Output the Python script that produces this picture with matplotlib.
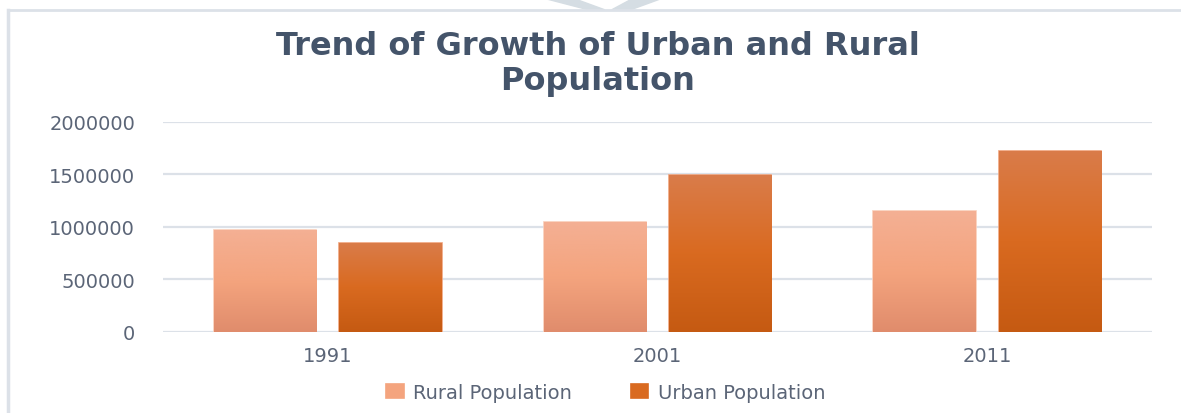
import matplotlib
matplotlib.use("Agg")
import matplotlib.pyplot as plt
import numpy as np
from matplotlib.patches import Polygon

years = ["1991", "2001", "2011"]
rural = [972000, 1048000, 1152000]
urban = [848000, 1495000, 1724000]
series_names = ["Rural Population", "Urban Population"]

title = "Trend of Growth of Urban and Rural\nPopulation"
yticks = [0, 500000, 1000000, 1500000, 2000000]

text_col = "#5B6577"
title_col = "#44546A"
grid_col = "#DCE1E8"

# gradients top -> bottom
rural_grad = ["#F4B094", "#F4A47E", "#E08C6C"]
urban_grad = ["#DA7C4A", "#D96A20", "#C55A12"]


def gradient_fill(ax, bar, colors):
    x, y = bar.get_x(), bar.get_y()
    w, h = bar.get_width(), bar.get_height()
    cmap = matplotlib.colors.LinearSegmentedColormap.from_list("g", colors)
    grad = np.linspace(1, 0, 256).reshape(-1, 1)
    im = ax.imshow(grad, extent=[x, x + w, y, y + h], aspect="auto",
                   cmap=cmap, origin="lower", zorder=bar.get_zorder())
    im.set_clip_path(bar)


fig = plt.figure(figsize=(11.81, 4.14), dpi=100)
ax = fig.add_axes([0.138, 0.1957, 0.8374, 0.5072])

x = np.arange(len(years))
w = 0.31
off = 0.19
b1 = ax.bar(x - off, rural, w, color=rural_grad[1], edgecolor="#F8CDB8",
            linewidth=1.2, zorder=3, label=series_names[0])
b2 = ax.bar(x + off, urban, w, color=urban_grad[1], edgecolor="#EFA27A",
            linewidth=1.2, zorder=3, label=series_names[1])
for bar in b1:
    gradient_fill(ax, bar, rural_grad)
for bar in b2:
    gradient_fill(ax, bar, urban_grad)

ax.set_xlim(-0.5, 2.5)
ax.set_ylim(0, 2000000)
ax.set_yticks(yticks)
ax.set_yticklabels([str(v) for v in yticks])
ax.set_xticks(x)
ax.set_xticklabels(years)
ax.yaxis.grid(True, color=grid_col, linewidth=1.6, zorder=0)
ax.set_axisbelow(True)
for s in ax.spines.values():
    s.set_visible(False)
ax.tick_params(axis="both", length=0, colors=text_col, labelsize=14)
ax.tick_params(axis="y", pad=20)
ax.tick_params(axis="x", pad=10)

leg = fig.legend(handles=[b1, b2], loc="center", bbox_to_anchor=(0.513, 0.05),
                 ncol=2, frameon=False, fontsize=14, handlelength=0.9,
                 handleheight=0.7, columnspacing=3.0, handletextpad=0.5)
for t in leg.get_texts():
    t.set_color(text_col)
for h, c in zip(leg.legend_handles, [rural_grad[1], urban_grad[1]]):
    h.set_facecolor(c)
    h.set_edgecolor(c)

fig.text(0.506, 0.925, title, ha="center", va="top", fontsize=23,
         fontweight="bold", color=title_col, linespacing=1.15)

# chart frame
fig.add_artist(plt.Line2D([0.007, 0.007], [0, 0.974], color="#DCE1E8", lw=2.5))
fig.add_artist(plt.Line2D([0.007, 1.0], [0.974, 0.974], color="#DCE1E8", lw=2))
# decorative chevron at top
fig.add_artist(Polygon([[0.463, 1.0], [0.487, 1.0], [0.512, 0.974], [0.498, 0.974]],
                       closed=True, color="#D5DDE3", transform=fig.transFigure))
fig.add_artist(Polygon([[0.535, 1.0], [0.559, 1.0], [0.534, 0.974], [0.518, 0.974]],
                       closed=True, color="#D5DDE3", transform=fig.transFigure))

fig.savefig("out.png", dpi=100, facecolor="white")
